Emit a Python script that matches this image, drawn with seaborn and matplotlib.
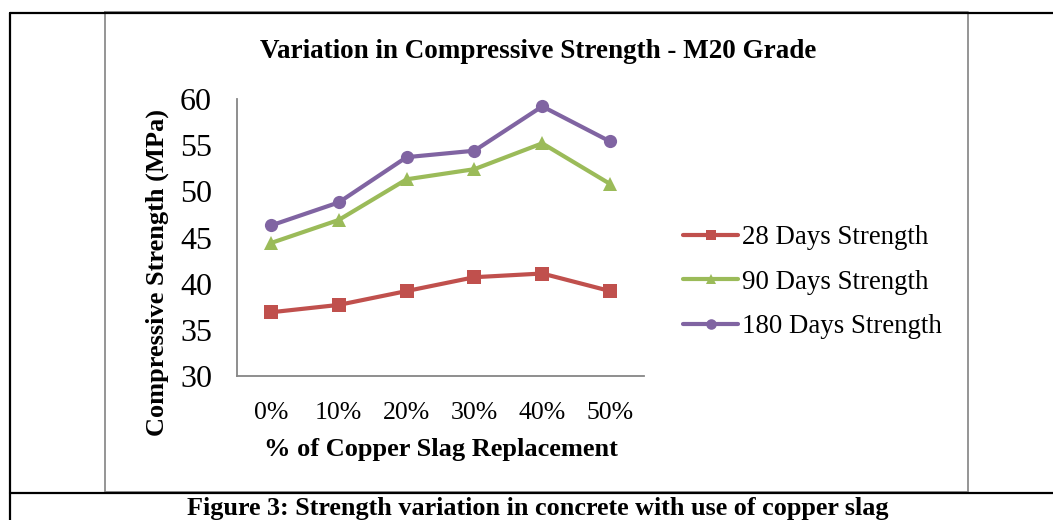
import matplotlib
matplotlib.use("Agg")
import matplotlib.pyplot as plt
from matplotlib.lines import Line2D
import seaborn as sns
import pandas as pd

categories = ["0%", "10%", "20%", "30%", "40%", "50%"]
s28 = [36.9, 37.7, 39.2, 40.7, 41.1, 39.2]
s90 = [44.4, 46.9, 51.3, 52.4, 55.2, 50.8]
s180 = [46.3, 48.8, 53.7, 54.4, 59.2, 55.4]
series_names = ["28 Days Strength", "90 Days Strength", "180 Days Strength"]
title = "Variation in Compressive Strength - M20 Grade"
xlabel = "% of Copper Slag Replacement"
ylabel = "Compressive Strength (MPa)"
caption = "Figure 3: Strength variation in concrete with use of copper slag"

sns.set_style("white")
plt.rcParams["font.family"] = ["Liberation Serif", "DejaVu Serif"]
plt.rcParams["text.color"] = "black"
plt.rcParams["axes.labelcolor"] = "black"
plt.rcParams["xtick.labelcolor"] = "black"
plt.rcParams["ytick.labelcolor"] = "black"

rows = []
for name, vals in zip(series_names, [s28, s90, s180]):
    for c, v in zip(categories, vals):
        rows.append({"cat": c, "val": v, "series": name})
df = pd.DataFrame(rows)

W, H = 1053, 520
fig = plt.figure(figsize=(W / 100, H / 100), dpi=100)
fig.patch.set_facecolor("white")

ax = fig.add_axes([237 / W, 1 - 376 / H, (644 - 237) / W, (376 - 99) / H])
palette = {series_names[0]: "#C0504D", series_names[1]: "#9BBB59", series_names[2]: "#8064A2"}
markers = {series_names[0]: "s", series_names[1]: "^", series_names[2]: "o"}
sns.lineplot(data=df, x="cat", y="val", hue="series", style="series",
             palette=palette, markers=markers, dashes=False, linewidth=3.0,
             markersize=9.5, markeredgewidth=0, ax=ax, sort=False)

ax.set_xlim(-0.5, 5.5)
ax.set_ylim(30, 60)
ax.set_yticks([30, 35, 40, 45, 50, 55, 60])
ax.set_xticks(range(len(categories)))
ax.set_xticklabels(categories)
ax.set_xticks([i - 0.5 for i in range(len(categories) + 1)], minor=True)
ax.tick_params(axis="x", which="major", length=0, labelsize=18.5, pad=19)
ax.tick_params(axis="x", which="minor", length=6, width=1.2, color="#868686", direction="out")
ax.tick_params(axis="y", length=6, width=1.2, color="#868686", direction="out", labelsize=23, pad=12)
for sp in ["top", "right"]:
    ax.spines[sp].set_visible(False)
for sp in ["left", "bottom"]:
    ax.spines[sp].set_color("#868686")
    ax.spines[sp].set_linewidth(1.3)

ax.set_xlabel(xlabel, fontsize=19, fontweight="bold", labelpad=10)
ax.set_ylabel(ylabel, fontsize=19, fontweight="bold")
ax.yaxis.set_label_coords(-0.167, 0.372)

leg = ax.legend(loc="center left", bbox_to_anchor=(1.096, 0.338), frameon=False,
                fontsize=19.4, handlelength=2.05, handletextpad=0.15, labelspacing=0.72,
                borderaxespad=0, borderpad=0, markerscale=0.8)

fig.text(538 / W, 1 - 51 / H, title, ha="center", va="center", fontsize=19.5, fontweight="bold")

# table / chart frame lines
fig.add_artist(Line2D([105 / W, 968 / W, 968 / W, 105 / W, 105 / W],
                      [1 - 12 / H, 1 - 12 / H, 1 - 492 / H, 1 - 492 / H, 1 - 12 / H],
                      color="#8c8c8c", linewidth=1.3, transform=fig.transFigure))
fig.add_artist(Line2D([10 / W, 1.0], [1 - 12.5 / H, 1 - 12.5 / H], color="black", linewidth=1.6,
                      transform=fig.transFigure))
fig.add_artist(Line2D([10 / W, 10 / W], [1 - 12.5 / H, 0], color="black", linewidth=1.6,
                      transform=fig.transFigure))
fig.add_artist(Line2D([10 / W, 1.0], [1 - 493 / H, 1 - 493 / H], color="black", linewidth=1.6,
                      transform=fig.transFigure))

fig.text(538 / W, 1 - 514.5 / H, caption, ha="center", va="baseline", fontsize=18.8, fontweight="bold")

fig.savefig("out.png", dpi=100, facecolor="white")
